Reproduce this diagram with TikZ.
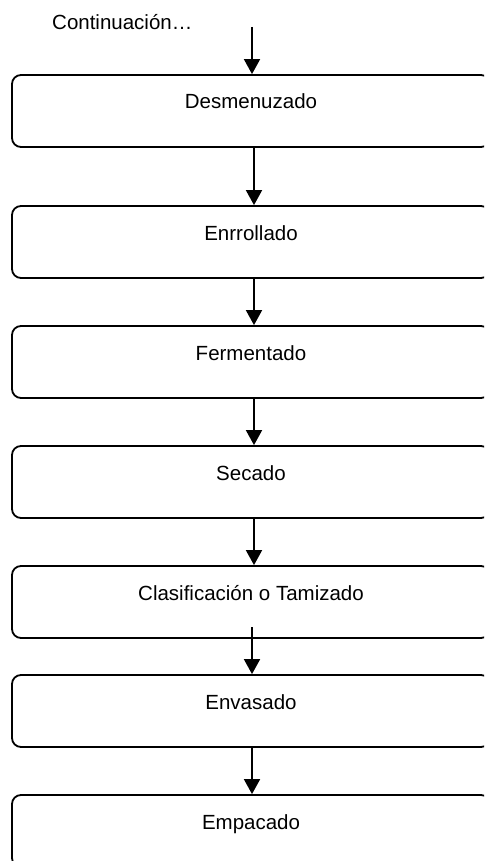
\documentclass[tikz,border=0pt]{standalone}
\usepackage{fontspec}
\setmainfont{Liberation Sans}
\usetikzlibrary{arrows.meta}
\begin{document}
\begin{tikzpicture}[x=1pt,y=-1pt,
  procbox/.style={draw=black, line width=1.8pt, rounded corners=9pt, minimum width=478pt,
    inner xsep=0pt, inner ysep=0pt, text height=34pt, text depth=38pt,
    font=\fontsize{20.5}{24}\selectfont},
  arr/.style={line width=1.8pt, -{Triangle[width=16pt,length=15pt]}},
  plain/.style={font=\fontsize{20.5}{24}\selectfont, inner sep=0pt}]
\useasboundingbox (0,0) rectangle (484,861);
\clip (0,0) rectangle (484,861);
\node[plain, anchor=base west] (cont) at (52,29.5) {Continuación…};
\node[procbox] (b1) at (251,111) {Desmenuzado};
\node[procbox] (b2) at (251,242) {Enrrollado};
\node[procbox] (b3) at (251,362) {Fermentado};
\node[procbox] (b4) at (251,482) {Secado};
\node[procbox] (b5) at (251,602) {Clasificación o Tamizado};
\node[procbox] (b6) at (251,711) {Envasado};
\node[procbox] (b7) at (251,831) {Empacado};
\coordinate (start) at (252,27);
\coordinate (s5) at (252,627);
\draw[arr] (start) -- ([xshift=1pt]b1.north);
\draw[arr] ([xshift=3pt]b1.south) -- ([xshift=3pt]b2.north);
\draw[arr] ([xshift=3pt]b2.south) -- ([xshift=3pt]b3.north);
\draw[arr] ([xshift=3pt]b3.south) -- ([xshift=3pt]b4.north);
\draw[arr] ([xshift=3pt]b4.south) -- ([xshift=3pt]b5.north);
\draw[arr] (s5) -- ([xshift=1pt]b6.north);
\draw[arr] ([xshift=1pt]b6.south) -- ([xshift=1pt]b7.north);
\end{tikzpicture}
\end{document}
